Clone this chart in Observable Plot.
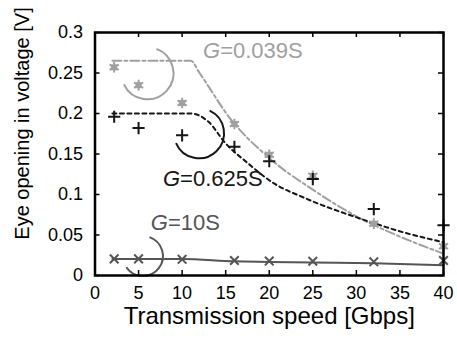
<!DOCTYPE html>
<html><head><meta charset="utf-8">
<script src="https://cdn.jsdelivr.net/npm/d3@7"></script>
<script src="https://cdn.jsdelivr.net/npm/@observablehq/plot@0.6"></script>
<style>
body{margin:0;background:#fff;}
#chart svg{display:block;}
</style></head><body><div id="chart"></div>
<script>
// Measured points (Gbps, V)
const speeds   = [2.2, 5, 10, 16, 20, 25, 32, 40];
const eyeG0039 = [0.257, 0.235, 0.213, 0.187, 0.149, 0.123, 0.064, 0.036];
const eyeG0625 = [0.196, 0.182, 0.173, 0.159, 0.141, 0.119, 0.082, 0.062];
const eyeG10   = [0.0205, 0.0205, 0.0200, 0.0185, 0.0178, 0.0176, 0.0169, 0.0185];

// Model curves
const fitX0039 = [2, 11, 12, 15.5, 20, 25, 30, 35, 40];
const fitY0039 = [0.265, 0.265, 0.250, 0.194, 0.145, 0.106, 0.073, 0.048, 0.027];
const fitX0625 = [2, 11, 13, 15, 17.5, 20.5, 24, 30.5, 35.5, 40];
const fitY0625 = [0.200, 0.200, 0.190, 0.163, 0.139, 0.114, 0.096, 0.070, 0.053, 0.041];
const fitX10   = [2, 10, 16, 20, 25, 32, 40];
const fitY10   = [0.0205, 0.0205, 0.0175, 0.0168, 0.0160, 0.0150, 0.0128];

// Annotation labels and arcs
const labelText = ["G=0.039S", "G=0.625S", "G=10S"];
const labelX    = [12.4, 7.8, 6.4];
const labelY    = [0.268, 0.111, 0.056];
const colors    = ["#a0a0a0", "#161616", "#555555"];
const arcCx     = [6.08, 12.0, 5.56];
const arcCy     = [0.249, 0.175, 0.0234];
const arcR      = [26, 25, 20];
const arcStart  = [20, 25, 19];
const arcEnd    = [245, 247, 236];

const xTicks = d3.range(0, 41, 5);
const yTicks = [0, 0.05, 0.1, 0.15, 0.2, 0.25, 0.3];
const xTitle = "Transmission speed [Gbps]";
const yTitle = "Eye opening in voltage [V]";

const pts = (xs, ys) => xs.map((x, i) => ({x, y: ys[i]}));
const labels = labelText.map((t, i) => ({t, x: labelX[i], y: labelY[i], c: colors[i]}));

function arcsMark(index, scales) {
  const g = d3.create("svg:g").attr("fill", "none").attr("stroke-width", 2);
  arcCx.forEach((cx, i) => {
    const px = scales.x(cx), py = scales.y(arcCy[i]), r = arcR[i];
    const a0 = (arcStart[i] - 90) * Math.PI / 180, a1 = (arcEnd[i] - 90) * Math.PI / 180;
    const p = d3.path();
    p.moveTo(px + r * Math.cos(a0), py + r * Math.sin(a0));
    p.arc(px, py, r, a0, a1);
    g.append("path").attr("d", p.toString()).attr("stroke", colors[i]);
  });
  return g.node();
}

function yTitleMark(index, scales, values, dims) {
  const cy = dims.marginTop + (dims.height - dims.marginTop - dims.marginBottom) / 2 - 30;
  return d3.create("svg:text")
    .attr("transform", `translate(${dims.marginLeft - 73},${cy}) rotate(-90)`)
    .attr("text-anchor", "middle").attr("dy", "0.35em")
    .attr("font-size", 20).attr("fill", "#000")
    .text(yTitle).node();
}

const W = 457, H = 338, mL = 94.5, mR = 14, mT = 32, mB = 63;
const frameW = W - mL - mR, frameH = H - mT - mB, tl = 5;

const chart = Plot.plot({
  width: W, height: H,
  marginLeft: mL, marginRight: mR, marginTop: mT, marginBottom: mB,
  style: {fontFamily: "'Liberation Sans', Arial, sans-serif", fontSize: "18px", background: "#fff"},
  x: {domain: [0, 40]},
  y: {domain: [0, 0.3]},
  marks: [
    Plot.axisX({ticks: xTicks, tickSize: 0, tickPadding: 11, label: null, fontSize: 18}),
    Plot.axisY({ticks: yTicks, tickSize: 0, tickPadding: 12, label: null, fontSize: 18,
                tickFormat: d => String(+d.toFixed(2))}),
    // inward ticks on all four sides
    Plot.tickX(xTicks, {x: d => d, insetTop: frameH - tl, stroke: "#000", strokeWidth: 1.5}),
    Plot.tickX(xTicks, {x: d => d, insetBottom: frameH - tl, stroke: "#000", strokeWidth: 1.5}),
    Plot.tickY(yTicks, {y: d => d, insetRight: frameW - tl, stroke: "#000", strokeWidth: 1.5}),
    Plot.tickY(yTicks, {y: d => d, insetLeft: frameW - tl, stroke: "#000", strokeWidth: 1.5}),
    Plot.line(pts(fitX0039, fitY0039), {x: "x", y: "y", stroke: colors[0], strokeWidth: 2,
              strokeDasharray: "9,3,3,3", curve: "monotone-x"}),
    Plot.line(pts(fitX0625, fitY0625), {x: "x", y: "y", stroke: colors[1], strokeWidth: 2,
              strokeDasharray: "4,3.5", curve: "monotone-x"}),
    Plot.line(pts(fitX10, fitY10), {x: "x", y: "y", stroke: colors[2], strokeWidth: 2, curve: "monotone-x"}),
    Plot.dot(pts(speeds, eyeG0039), {x: "x", y: "y", symbol: "square", r: 3.4, fill: colors[0]}),
    Plot.dot(pts(speeds, eyeG0039), {x: "x", y: "y", symbol: "asterisk", r: 5, stroke: colors[0], strokeWidth: 2}),
    Plot.dot(pts(speeds, eyeG0625), {x: "x", y: "y", symbol: "plus", r: 4, stroke: colors[1], strokeWidth: 2}),
    Plot.dot(pts(speeds, eyeG10), {x: "x", y: "y", symbol: "times", r: 4, stroke: colors[2], strokeWidth: 2}),
    arcsMark,
    Plot.text(labels, {x: "x", y: "y", text: "t", fill: "c", textAnchor: "start", lineAnchor: "bottom",
              fontSize: 22, className: "glabel"}),
    Plot.text([xTitle], {frameAnchor: "bottom", text: d => d, dy: 48,
              lineAnchor: "bottom", fontSize: 24, fill: "#000"}),
    yTitleMark,
    Plot.frame({stroke: "#000", strokeWidth: 2.5})
  ]
});

// Italicise the variable "G" in annotation labels
d3.select(chart).selectAll(".glabel text").each(function() {
  const t = this.textContent;
  const sel = d3.select(this);
  sel.text(null);
  sel.append("tspan").attr("font-style", "italic").text(t.slice(0, 1));
  sel.append("tspan").text(t.slice(1));
});

document.getElementById("chart").appendChild(chart);
</script></body></html>
